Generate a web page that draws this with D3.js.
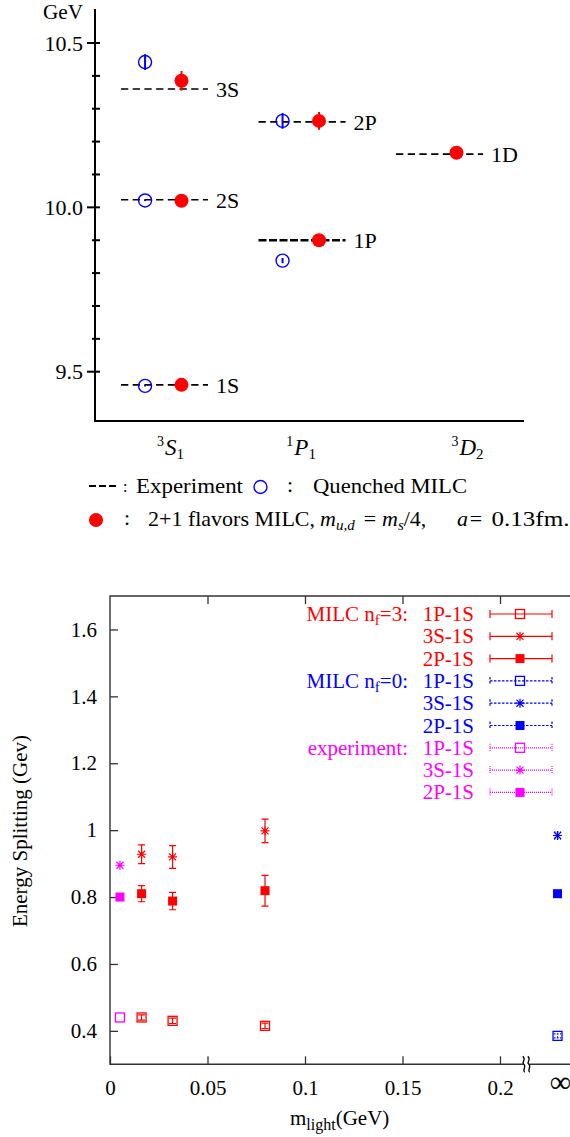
<!DOCTYPE html>
<html>
<head>
<meta charset="utf-8">
<script src="https://cdn.jsdelivr.net/npm/d3@7"></script>
<style>
  body { margin: 0; background: #fff; }
  svg { display: block; }
  svg text { font-family: "Liberation Serif", "DejaVu Serif", "Times New Roman", Times, serif; fill: #000; }
</style>
</head>
<body>
<svg id="chart" width="570" height="1137"></svg>
<script>
// ---------------- Bottomonium spectrum (upper panel) ----------------
const levels        = ["1S", "2S", "3S", "1P", "2P", "1D"];
const levelChannel  = [0, 0, 0, 1, 1, 2];            // 0: 3S1, 1: 1P1, 2: 3D2
const experiment    = [9.460, 10.023, 10.360, 9.900, 10.260, 10.162];
const quenched      = [9.457, 10.021, 10.442, 9.838, 10.263, null];
const quenchedErr   = [0.002, 0.002, 0.024, 0.008, 0.024, null];
const dynamical     = [9.460, 10.020, 10.385, 9.900, 10.263, 10.166];
const dynamicalErr  = [0.002, 0.002, 0.030, 0.003, 0.027, 0.003];
const channelPre    = ["3", "1", "3"];
const channelMain   = ["S", "P", "D"];
const channelSub    = ["1", "1", "2"];
const channelLabelAt = [0.36, 1.31, 2.52];
const massMajorTicks = [9.5, 10.0, 10.5];
const massMinorTicks = [9.6, 9.7, 9.8, 9.9, 10.1, 10.2, 10.3, 10.4];

// ---------------- Energy splittings vs light quark mass (lower panel) ----------------
const mLight   = [0.0162, 0.0321, 0.0795];   // 2+1 flavour ensembles (GeV)
const mPhys    = 0.0051;                     // physical point
const mInf     = 0.2295;                     // m_light -> infinity (quenched) column
const splitNames = ["1P-1S", "3S-1S", "2P-1S"];
const nf3Val = [[0.440, 0.430, 0.415], [0.928, 0.920, 0.998], [0.810, 0.788, 0.819]];
const nf3Err = [[0.008, 0.008, 0.008], [0.028, 0.034, 0.035], [0.024, 0.026, 0.046]];
const nf0Val = [0.385, 0.984, 0.810];
const nf0Err = [0.006, 0.010, 0.010];
const expVal = [0.440, 0.895, 0.800];
const xTicksBottom = [0, 0.05, 0.1, 0.15, 0.2];
const yTicksBottom = [0.4, 0.6, 0.8, 1, 1.2, 1.4, 1.6];

const RED = "#ff0000", BLUE = "#0000ff", MAG = "#ff00ff";
const SERIF = "'Liberation Serif', 'DejaVu Serif', 'Times New Roman', serif";
const svg = d3.select("#chart").attr("font-family", SERIF);

// ======================= upper panel =======================
const gT = svg.append("g");
const yT = d3.scaleLinear().domain([9.5, 10.5]).range([371.7, 43]);
const xT = d3.scaleLinear().domain([0, 1]).range([121, 258.5]);
const axX = 95, axBottom = 421;
const FT = 22;   // upper panel font size

// axes
gT.append("line").attr("x1", axX).attr("x2", axX).attr("y1", 9).attr("y2", axBottom + 1)
  .attr("stroke", "#000").attr("stroke-width", 2);
gT.append("line").attr("x1", axX).attr("x2", 524).attr("y1", axBottom).attr("y2", axBottom)
  .attr("stroke", "#000").attr("stroke-width", 2);
gT.selectAll(".tmaj").data(massMajorTicks).join("line")
  .attr("x1", axX - 8).attr("x2", axX + 5)
  .attr("y1", d => yT(d)).attr("y2", d => yT(d))
  .attr("stroke", "#000").attr("stroke-width", 2);
gT.selectAll(".tmin").data(massMinorTicks).join("line")
  .attr("x1", axX - 3).attr("x2", axX + 5)
  .attr("y1", d => yT(d)).attr("y2", d => yT(d))
  .attr("stroke", "#000").attr("stroke-width", 2);
gT.selectAll(".tlab").data(massMajorTicks).join("text")
  .attr("x", 83).attr("y", d => yT(d) + 7.5)
  .attr("text-anchor", "end").attr("font-size", FT)
  .text(d => d3.format(".1f")(d));
gT.append("text").attr("x", 43).attr("y", 18.5).attr("font-size", 20).attr("textLength", 40)
  .attr("lengthAdjust", "spacingAndGlyphs").text("GeV");

// channel labels
channelMain.forEach((m, i) => {
  const t = gT.append("text").attr("x", xT(channelLabelAt[i])).attr("y", 455)
    .attr("text-anchor", "middle").attr("font-size", 23);
  t.append("tspan").attr("font-size", 14).attr("dy", -9).text(channelPre[i]);
  t.append("tspan").attr("font-style", "italic").attr("dy", 9).attr("dx", 1).text(m);
  t.append("tspan").attr("font-size", 15).attr("dy", 4).text(channelSub[i]);
});

// experimental levels (dashed)
const dashLen = 0.633, qOff = 0.175, dOff = 0.44;
levels.forEach((lv, i) => {
  const c = levelChannel[i];
  const thick = lv === "1P";
  gT.append("line")
    .attr("x1", xT(c)).attr("x2", xT(c + dashLen))
    .attr("y1", yT(experiment[i])).attr("y2", yT(experiment[i]))
    .attr("stroke", "#000").attr("stroke-width", thick ? 2.6 : 1.6)
    .attr("stroke-dasharray", thick ? "8,2.5" : "7.3,4.4");
  gT.append("text").attr("x", xT(c + dashLen) + 8).attr("y", yT(experiment[i]) + 8)
    .attr("font-size", FT).text(lv);
});

// quenched MILC (open blue circles)
levels.forEach((lv, i) => {
  if (quenched[i] === null) return;
  const x = xT(levelChannel[i] + qOff), y = yT(quenched[i]);
  gT.append("line").attr("x1", x).attr("x2", x)
    .attr("y1", yT(quenched[i] - quenchedErr[i])).attr("y2", yT(quenched[i] + quenchedErr[i]))
    .attr("stroke", BLUE).attr("stroke-width", 2);
  gT.append("circle").attr("cx", x).attr("cy", y).attr("r", 6.5)
    .attr("fill", "none").attr("stroke", BLUE).attr("stroke-width", 1.4);
});

// 2+1 flavour MILC (filled red circles)
levels.forEach((lv, i) => {
  const x = xT(levelChannel[i] + dOff), y = yT(dynamical[i]);
  gT.append("line").attr("x1", x).attr("x2", x)
    .attr("y1", yT(dynamical[i] - dynamicalErr[i])).attr("y2", yT(dynamical[i] + dynamicalErr[i]))
    .attr("stroke", RED).attr("stroke-width", 2);
  gT.append("circle").attr("cx", x).attr("cy", y).attr("r", 7).attr("fill", RED);
});

// legend of the upper panel
const lg = svg.append("g").attr("font-size", FT);
lg.append("line").attr("x1", 89).attr("x2", 116).attr("y1", 486).attr("y2", 486)
  .attr("stroke", "#000").attr("stroke-width", 2).attr("stroke-dasharray", "7,3");
lg.append("text").attr("x", 123).attr("y", 492).attr("font-size", 16).text(":");
lg.append("text").attr("x", 136).attr("y", 493).attr("textLength", 107)
  .attr("lengthAdjust", "spacingAndGlyphs").text("Experiment");
lg.append("circle").attr("cx", 260.5).attr("cy", 487).attr("r", 6.5)
  .attr("fill", "none").attr("stroke", BLUE).attr("stroke-width", 1.4);
lg.append("text").attr("x", 287).attr("y", 492).text(":");
lg.append("text").attr("x", 313).attr("y", 493).attr("textLength", 154)
  .attr("lengthAdjust", "spacingAndGlyphs").text("Quenched MILC");

lg.append("circle").attr("cx", 96).attr("cy", 520).attr("r", 7).attr("fill", RED);
lg.append("text").attr("x", 124).attr("y", 525).text(":");
lg.append("text").attr("x", 148).attr("y", 526).attr("textLength", 167)
  .attr("lengthAdjust", "spacingAndGlyphs").text("2+1 flavors MILC,");
const m1 = lg.append("text").attr("x", 320).attr("y", 526);
m1.append("tspan").attr("font-style", "italic").text("m");
m1.append("tspan").attr("font-style", "italic").attr("font-size", 15).attr("dy", 4).text("u,d");
lg.append("text").attr("x", 370).attr("y", 526).attr("text-anchor", "middle").text("=");
const m2 = lg.append("text").attr("x", 382).attr("y", 526);
m2.append("tspan").attr("font-style", "italic").text("m");
m2.append("tspan").attr("font-style", "italic").attr("font-size", 15).attr("dy", 4).text("s");
m2.append("tspan").attr("dy", -4).text("/4,");
lg.append("text").attr("x", 457).attr("y", 526).attr("font-style", "italic").text("a");
lg.append("text").attr("x", 476).attr("y", 526).attr("text-anchor", "middle").text("=");
lg.append("text").attr("x", 491.5).attr("y", 526).attr("textLength", 78)
  .attr("lengthAdjust", "spacingAndGlyphs").text("0.13fm.");

// ======================= lower panel =======================
const gB = svg.append("g").attr("font-size", 21);
const xB = d3.scaleLinear().domain([0, 0.05]).range([110, 207.5]);
const yB = d3.scaleLinear().domain([0.3, 1.7]).range([1064.3, 596]);
const L = 110, R = 572, T = yB(1.7), B = yB(0.3);
const AX = "#333";

const yAxis = d3.axisLeft(yB).tickValues(yTicksBottom).tickSize(-8).tickPadding(13)
  .tickFormat(d => String(d));
const xAxis = d3.axisBottom(xB).tickValues(xTicksBottom).tickSize(-8).tickPadding(16)
  .tickFormat(d => String(d));
const xTop = d3.axisTop(xB).tickValues(xTicksBottom.slice(1)).tickSize(-8).tickFormat("");

function styleAxis(sel) {
  sel.attr("font-family", SERIF).attr("font-size", 21);
  sel.select(".domain").remove();
  sel.selectAll("line").attr("stroke", AX).attr("stroke-width", 1.3);
  sel.selectAll("text").attr("fill", "#000");
}
gB.append("g").attr("transform", `translate(${L},0)`).call(yAxis).call(styleAxis);
gB.append("g").attr("transform", `translate(0,${B})`).call(xAxis).call(styleAxis);
gB.append("g").attr("transform", `translate(0,${T})`).call(xTop).call(styleAxis);

// frame
gB.append("path").attr("d", `M${R},${T}H${L}V${B}H${R}`)
  .attr("fill", "none").attr("stroke", AX).attr("stroke-width", 1.4);

// axis break before the infinite-mass column
const bx = xB(0.2135);
gB.append("rect").attr("x", bx - 3).attr("y", B - 2).attr("width", 6).attr("height", 4).attr("fill", "#fff");
[-2.5, 2.5].forEach(o => {
  gB.append("path")
    .attr("d", `M${bx + o - 1},${B - 8} C${bx + o + 3},${B - 4} ${bx + o - 3},${B - 2} ${bx + o},${B}
                S${bx + o - 2},${B + 6} ${bx + o + 1},${B + 8}`)
    .attr("fill", "none").attr("stroke", "#000").attr("stroke-width", 1.3);
});
gB.append("text").attr("x", xB(mInf) + 3).attr("y", 1092).attr("text-anchor", "middle")
  .attr("font-size", 30).text("∞");

// axis titles
const xl = gB.append("text").attr("x", 290).attr("y", 1125);
xl.append("tspan").text("m");
xl.append("tspan").attr("font-size", 16).attr("dy", 5).text("light");
xl.append("tspan").attr("dy", -5).text("(GeV)");
gB.append("text").attr("transform", `translate(27,831) rotate(-90)`)
  .attr("text-anchor", "middle").text("Energy Splitting (Gev)");

// markers
const markerTypes = ["open", "star", "filled"];
function marker(g, type, x, y, color) {
  const s = 9, h = s / 2;
  if (type === "open") {
    g.append("rect").attr("x", x - h).attr("y", y - h).attr("width", s).attr("height", s)
      .attr("fill", "none").attr("stroke", color).attr("stroke-width", 1.3);
  } else if (type === "filled") {
    g.append("rect").attr("x", x - h).attr("y", y - h).attr("width", s).attr("height", s)
      .attr("fill", color);
  } else {
    const d = h * 0.78;
    g.append("path")
      .attr("d", `M${x - h},${y}H${x + h}M${x},${y - h}V${y + h}M${x - d},${y - d}L${x + d},${y + d}M${x - d},${y + d}L${x + d},${y - d}`)
      .attr("stroke", color).attr("stroke-width", 1.2).attr("fill", "none");
  }
}
function errBar(g, x, v, e, color, dash) {
  const y1 = yB(v - e), y2 = yB(v + e);
  const p = g.append("path")
    .attr("d", `M${x},${y1}V${y2}M${x - 3.5},${y1}H${x + 3.5}M${x - 3.5},${y2}H${x + 3.5}`)
    .attr("stroke", color).attr("stroke-width", 1.2).attr("fill", "none");
  if (dash) p.attr("stroke-dasharray", dash);
}

const pts = gB.append("g");
// n_f = 3
splitNames.forEach((s, k) => {
  mLight.forEach((m, j) => {
    errBar(pts, xB(m), nf3Val[k][j], nf3Err[k][j], RED);
    marker(pts, markerTypes[k], xB(m), yB(nf3Val[k][j]), RED);
  });
});
// n_f = 0 at infinite light quark mass
splitNames.forEach((s, k) => {
  errBar(pts, xB(mInf), nf0Val[k], nf0Err[k], BLUE, "1.5,1.5");
  marker(pts, markerTypes[k], xB(mInf), yB(nf0Val[k]), BLUE);
});
// experiment at the physical point
splitNames.forEach((s, k) => {
  marker(pts, markerTypes[k], xB(mPhys), yB(expVal[k]), MAG);
});

// legend of the lower panel
const groups = [
  { name: "MILC n", sub: "f", tail: "=3:", color: RED, dash: null },
  { name: "MILC n", sub: "f", tail: "=0:", color: BLUE, dash: "2.5,1.5" },
  { name: "experiment:", sub: null, tail: "", color: MAG, dash: "1,1" }
];
const rowY0 = 614, rowDY = 22.3;
groups.forEach((g, gi) => {
  const gy = rowY0 + gi * 3 * rowDY;
  const t = gB.append("text").attr("x", 408).attr("y", gy + 7).attr("text-anchor", "end")
    .style("fill", g.color);
  t.append("tspan").text(g.name);
  if (g.sub) {
    t.append("tspan").attr("font-size", 15).attr("dy", 4).text(g.sub);
    t.append("tspan").attr("dy", -4).text(g.tail);
  }
  splitNames.forEach((s, k) => {
    const y = gy + k * rowDY;
    gB.append("text").attr("x", 474).attr("y", y + 7).attr("text-anchor", "end")
      .style("fill", g.color).text(s);
    const line = gB.append("path")
      .attr("d", `M490,${y}H552M490,${y - 4}V${y + 4}M552,${y - 4}V${y + 4}`)
      .attr("stroke", g.color).attr("stroke-width", 1.2).attr("fill", "none");
    if (g.dash) line.attr("stroke-dasharray", g.dash);
    marker(gB, markerTypes[k], 520, y, g.color);
  });
});
</script>
</body>
</html>
